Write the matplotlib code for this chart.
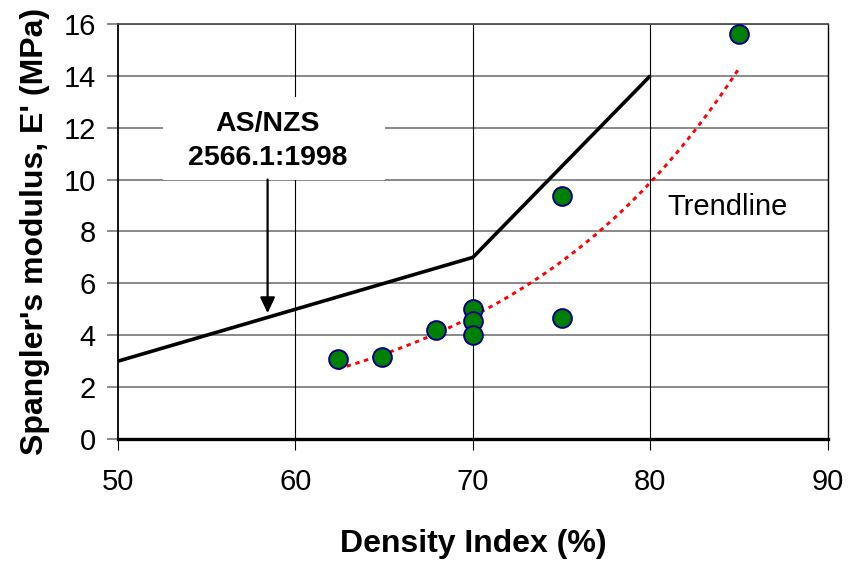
import numpy as np
import matplotlib.pyplot as plt
from matplotlib.patches import Rectangle

plt.rcParams["font.family"] = ["Liberation Sans", "DejaVu Sans"]

# Measured data (Density Index %, Spangler's modulus MPa)
density = [62.4, 64.9, 67.9, 70.0, 70.0, 70.0, 75.0, 75.0, 85.0]
modulus = [3.1, 3.15, 4.2, 5.0, 4.55, 4.0, 9.35, 4.65, 15.6]

# AS/NZS 2566.1:1998 design line
std_density = [50, 70, 80]
std_modulus = [3, 7, 14]

x_ticks = [50, 60, 70, 80, 90]
y_ticks = [0, 2, 4, 6, 8, 10, 12, 14, 16]

# Exponential trendline fitted to the measurements
b, ln_a = np.polyfit(density, np.log(modulus), 1)
trend_x = np.linspace(min(density), max(density), 100)
trend_y = np.exp(ln_a + b * trend_x)

fig = plt.figure(figsize=(8.49, 5.61), dpi=100)
ax = fig.add_axes([0.139, 0.2175, 0.836, 0.74])

# Grid: grey horizontal, black vertical
for yv in y_ticks[1:]:
    ax.axhline(yv, color="#808080", lw=1.3, zorder=1)
for xv in x_ticks[1:-1]:
    ax.axvline(xv, color="black", lw=0.8, zorder=1)

# Text box background (hides the grid behind the label)
ax.add_patch(Rectangle((52.55, 10.0), 12.5, 3.18, facecolor="white",
                       edgecolor="none", zorder=2))

ax.plot(std_density, std_modulus, color="black", lw=2.6, zorder=3,
        solid_capstyle="butt")
ax.plot(trend_x, trend_y, color="red", lw=2.1, dashes=(1.5, 1.6), zorder=4)
ax.plot(density, modulus, "o", ms=13.5, mfc="#008000", mec="#000080",
        mew=1.4, zorder=5)

ax.text(58.43, 11.5, "AS/NZS\n2566.1:1998", ha="center", va="center",
        fontsize=20.5, fontweight="bold", linespacing=1.4, zorder=6)
ax.annotate("", xy=(58.43, 4.85), xytext=(58.43, 10.0),
            arrowprops=dict(arrowstyle="-|>,head_width=0.45,head_length=0.95",
                            color="black", lw=1.6, shrinkA=0, shrinkB=0),
            zorder=6)
ax.text(84.38, 8.95, "Trendline", ha="center", va="center", fontsize=21,
        zorder=6)

ax.set_xlim(50, 90)
ax.set_ylim(0, 16)
ax.set_xticks(x_ticks)
ax.set_yticks(y_ticks)
ax.tick_params(axis="x", direction="out", length=8, width=0.8,
               color="black", labelsize=21, pad=13)
ax.tick_params(axis="y", direction="out", length=8, width=1.3,
               color="#808080", labelsize=21, pad=8)

ax.spines["bottom"].set_linewidth(2.4)
ax.spines["left"].set_linewidth(1.3)
ax.spines["top"].set_color("#505050")
ax.spines["top"].set_linewidth(1.3)
ax.spines["right"].set_linewidth(1.0)

ax.set_xlabel("Density Index (%)", fontsize=23, fontweight="bold", labelpad=24)
ax.set_ylabel("Spangler's modulus, E' (MPa)", fontsize=23, fontweight="bold",
              labelpad=10)

fig.savefig("out.png", dpi=100)
